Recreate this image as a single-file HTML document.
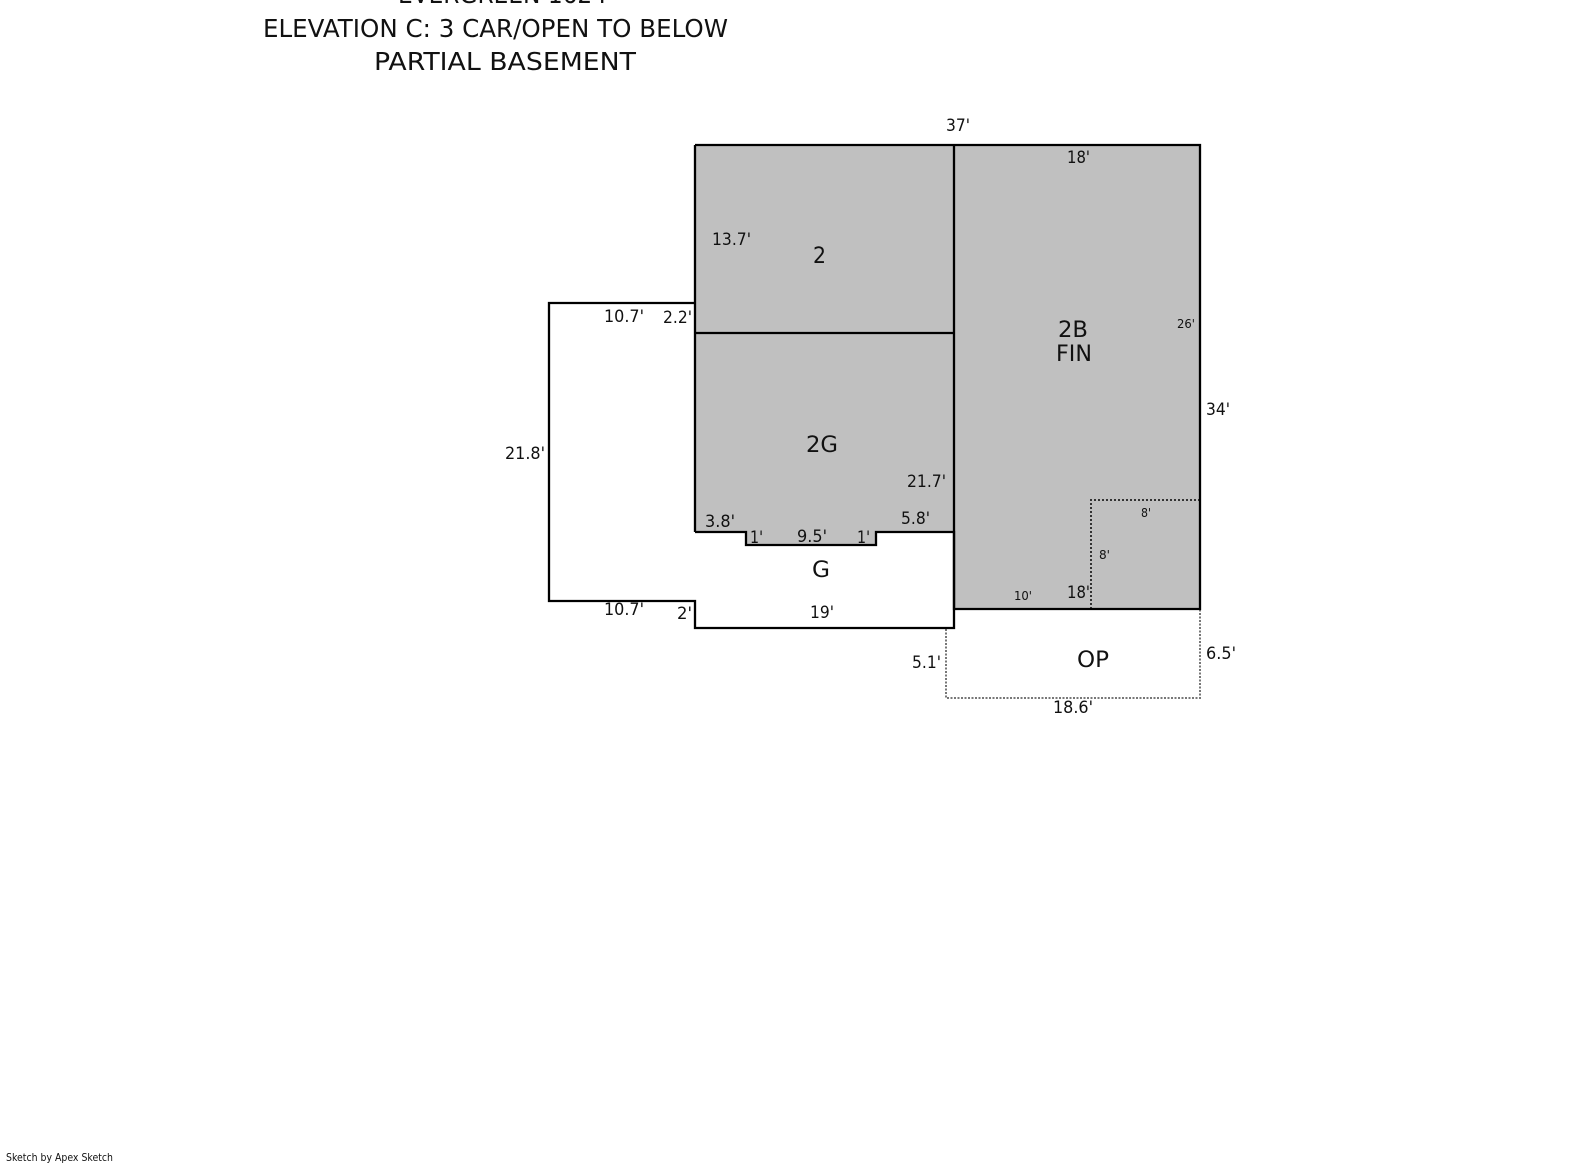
<!DOCTYPE html>
<html><head><meta charset="utf-8"><style>
html,body{margin:0;padding:0;background:#fff;width:1585px;height:1163px;overflow:hidden}
svg{display:block}
text{font-family:"DejaVu Sans","Liberation Sans",sans-serif;fill:#111}
.t{font-size:25px}.d{font-size:17px}.l{font-size:22px}.s{font-size:12.5px}
</style></head><body>
<svg width="1585" height="1163" viewBox="0 0 1585 1163" xmlns="http://www.w3.org/2000/svg">
<rect width="1585" height="1163" fill="#fff"/>
<path d="M695 145H1200V609H954V532H876V545H746V532H695Z" fill="#c0c0c0"/>
<path d="M946 629V698H1200V610" fill="none" stroke="#777" stroke-width="2" stroke-dasharray="2 1.5"/>
<path d="M1091 609V500H1200" fill="none" stroke="#333" stroke-width="2" stroke-dasharray="2 2"/>
<g fill="none" stroke="#000" stroke-width="2.3">
<path d="M695 145H1200V609H954V145"/>
<path d="M695 532V145"/>
<path d="M695 333H954"/>
<path d="M695 303H549V601H695V628H954V532H876V545H746V532H695"/>
</g>
<g>
<text class="t" x="398" y="3" textLength="209" lengthAdjust="spacingAndGlyphs">EVERGREEN 1624</text>
<text class="t" x="263" y="37" textLength="465" lengthAdjust="spacingAndGlyphs">ELEVATION C: 3 CAR/OPEN TO BELOW</text>
<text class="t" x="374" y="70" textLength="262" lengthAdjust="spacingAndGlyphs">PARTIAL BASEMENT</text>
<text class="d" x="946" y="131" textLength="24" lengthAdjust="spacingAndGlyphs">37'</text>
<text class="d" x="1067" y="163" textLength="23" lengthAdjust="spacingAndGlyphs">18'</text>
<text class="d" x="712" y="245" textLength="39" lengthAdjust="spacingAndGlyphs">13.7'</text>
<text class="l" x="813" y="263" textLength="13" lengthAdjust="spacingAndGlyphs">2</text>
<text class="l" x="1058" y="337" textLength="30" lengthAdjust="spacingAndGlyphs">2B</text>
<text class="l" x="1056" y="361" textLength="36" lengthAdjust="spacingAndGlyphs">FIN</text>
<text class="s" x="1177" y="328" textLength="18" lengthAdjust="spacingAndGlyphs">26'</text>
<text class="d" x="604" y="322" textLength="40" lengthAdjust="spacingAndGlyphs">10.7'</text>
<text class="d" x="663" y="323" textLength="29" lengthAdjust="spacingAndGlyphs">2.2'</text>
<text class="d" x="505" y="459" textLength="40" lengthAdjust="spacingAndGlyphs">21.8'</text>
<text class="d" x="1206" y="415" textLength="24" lengthAdjust="spacingAndGlyphs">34'</text>
<text class="l" x="806" y="452" textLength="32" lengthAdjust="spacingAndGlyphs">2G</text>
<text class="d" x="907" y="487" textLength="39" lengthAdjust="spacingAndGlyphs">21.7'</text>
<text class="d" x="705" y="527" textLength="30" lengthAdjust="spacingAndGlyphs">3.8'</text>
<text class="d" x="901" y="524" textLength="29" lengthAdjust="spacingAndGlyphs">5.8'</text>
<text class="d" x="750" y="543" textLength="13" lengthAdjust="spacingAndGlyphs">1'</text>
<text class="d" x="797" y="542" textLength="30" lengthAdjust="spacingAndGlyphs">9.5'</text>
<text class="d" x="857" y="543" textLength="13" lengthAdjust="spacingAndGlyphs">1'</text>
<text class="l" x="812" y="577" textLength="18" lengthAdjust="spacingAndGlyphs">G</text>
<text class="d" x="810" y="618" textLength="24" lengthAdjust="spacingAndGlyphs">19'</text>
<text class="d" x="677" y="619" textLength="15" lengthAdjust="spacingAndGlyphs">2'</text>
<text class="d" x="604" y="615" textLength="40" lengthAdjust="spacingAndGlyphs">10.7'</text>
<text class="s" x="1141" y="517" textLength="10" lengthAdjust="spacingAndGlyphs">8'</text>
<text class="s" x="1099" y="559" textLength="11" lengthAdjust="spacingAndGlyphs">8'</text>
<text class="s" x="1014" y="600" textLength="18" lengthAdjust="spacingAndGlyphs">10'</text>
<text class="d" x="1067" y="598" textLength="23" lengthAdjust="spacingAndGlyphs">18'</text>
<text class="l" x="1077" y="667" textLength="32" lengthAdjust="spacingAndGlyphs">OP</text>
<text class="d" x="1206" y="659" textLength="30" lengthAdjust="spacingAndGlyphs">6.5'</text>
<text class="d" x="912" y="668" textLength="29" lengthAdjust="spacingAndGlyphs">5.1'</text>
<text class="d" x="1053" y="713" textLength="40" lengthAdjust="spacingAndGlyphs">18.6'</text>
<text x="6" y="1161" font-size="11" textLength="107" lengthAdjust="spacingAndGlyphs">Sketch by Apex Sketch</text>
</g>
</svg>
</body></html>
